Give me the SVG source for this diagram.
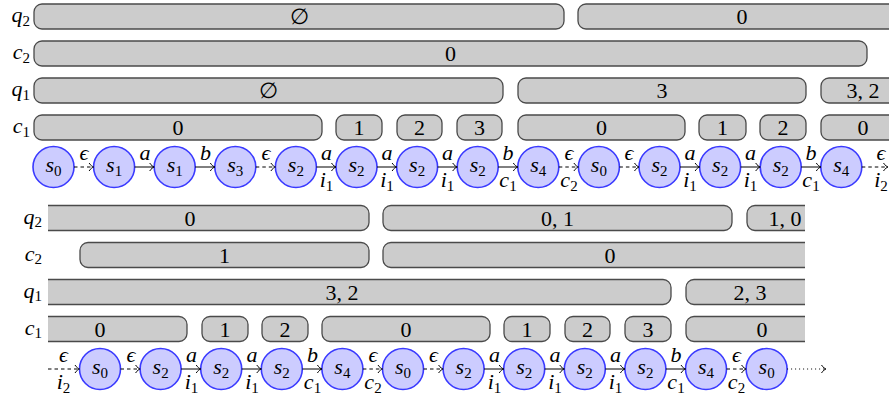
<svg xmlns="http://www.w3.org/2000/svg" width="889" height="400" viewBox="0 0 889 400" font-family="Liberation Serif, Times New Roman, DejaVu Serif, serif" font-size="22">
<style>
.st circle{fill:#ccccff;stroke:#3a3aff;stroke-width:1.6}
.bar rect{fill:#cccccc;stroke:#4a4a4a;stroke-width:1.3}
.lb{font-style:italic;text-anchor:middle}
.rl{font-style:italic;text-anchor:end}
.n{text-anchor:middle}
.sub{font-size:15px;font-style:normal}
.e{stroke:#000;stroke-width:1;fill:none;marker-end:url(#to)}
.d{stroke-dasharray:3.5 3}
.dot{stroke-dasharray:1 3}
</style>
<defs>
<marker id="to" viewBox="-6 -6 7 12" refX="0" refY="0" markerWidth="7" markerHeight="12" markerUnits="userSpaceOnUse" orient="auto">
<path d="M-4.5,-4 C-3,-1.5 -1,-0.4 0,0 C-1,0.4 -3,1.5 -4.5,4" fill="none" stroke="#000" stroke-width="1" stroke-dasharray="none"/>
</marker>
<clipPath id="clipB"><rect x="48" y="198" width="757" height="202"/></clipPath>
</defs>

<!-- Top row labels -->
<g id="top-row-labels">
<text class="rl" x="30" y="22">q<tspan class="sub" dy="3.5">2</tspan></text>
<text class="rl" x="30" y="59">c<tspan class="sub" dy="3.5">2</tspan></text>
<text class="rl" x="30" y="96">q<tspan class="sub" dy="3.5">1</tspan></text>
<text class="rl" x="30" y="133">c<tspan class="sub" dy="3.5">1</tspan></text>
</g>

<!-- Top bars -->
<g id="tq2a" class="bar"><rect x="34" y="4" width="530" height="25" rx="8"/><text class="n" x="299" y="24">∅</text></g>
<g id="tq2b" class="bar"><rect x="578" y="4" width="328" height="25" rx="8"/><text class="n" x="742" y="24">0</text></g>
<g id="tc2a" class="bar"><rect x="34" y="41" width="833" height="25" rx="8"/><text class="n" x="450.5" y="61">0</text></g>
<g id="tq1a" class="bar"><rect x="34" y="78" width="469" height="25" rx="8"/><text class="n" x="268.5" y="98">∅</text></g>
<g id="tq1b" class="bar"><rect x="518" y="78" width="288" height="25" rx="8"/><text class="n" x="662" y="98">3</text></g>
<g id="tq1c" class="bar"><rect x="821" y="78" width="84" height="25" rx="8"/><text class="n" x="863" y="98">3, 2</text></g>
<g id="tc1a" class="bar"><rect x="34" y="115" width="288" height="25" rx="8"/><text class="n" x="178" y="135">0</text></g>
<g id="tc1b" class="bar"><rect x="336" y="115" width="46" height="25" rx="8"/><text class="n" x="359" y="135">1</text></g>
<g id="tc1c" class="bar"><rect x="397" y="115" width="45" height="25" rx="8"/><text class="n" x="419.5" y="135">2</text></g>
<g id="tc1d" class="bar"><rect x="457" y="115" width="45" height="25" rx="8"/><text class="n" x="479.5" y="135">3</text></g>
<g id="tc1e" class="bar"><rect x="518" y="115" width="167" height="25" rx="8"/><text class="n" x="601.5" y="135">0</text></g>
<g id="tc1f" class="bar"><rect x="699" y="115" width="47" height="25" rx="8"/><text class="n" x="722.5" y="135">1</text></g>
<g id="tc1g" class="bar"><rect x="760" y="115" width="46" height="25" rx="8"/><text class="n" x="783" y="135">2</text></g>
<g id="tc1h" class="bar"><rect x="821" y="115" width="84" height="25" rx="8"/><text class="n" x="863" y="135">0</text></g>

<!-- Top states -->
<g id="t0" class="st"><circle cx="53.5" cy="167" r="20.5"/><text class="lb" x="53.5" y="172">s<tspan class="sub" dy="3.5">0</tspan></text></g>
<g id="t1" class="st"><circle cx="114.1" cy="167" r="20.5"/><text class="lb" x="114.1" y="172">s<tspan class="sub" dy="3.5">1</tspan></text></g>
<g id="t2" class="st"><circle cx="174.7" cy="167" r="20.5"/><text class="lb" x="174.7" y="172">s<tspan class="sub" dy="3.5">1</tspan></text></g>
<g id="t3" class="st"><circle cx="235.3" cy="167" r="20.5"/><text class="lb" x="235.3" y="172">s<tspan class="sub" dy="3.5">3</tspan></text></g>
<g id="t4" class="st"><circle cx="295.9" cy="167" r="20.5"/><text class="lb" x="295.9" y="172">s<tspan class="sub" dy="3.5">2</tspan></text></g>
<g id="t5" class="st"><circle cx="356.5" cy="167" r="20.5"/><text class="lb" x="356.5" y="172">s<tspan class="sub" dy="3.5">2</tspan></text></g>
<g id="t6" class="st"><circle cx="417.1" cy="167" r="20.5"/><text class="lb" x="417.1" y="172">s<tspan class="sub" dy="3.5">2</tspan></text></g>
<g id="t7" class="st"><circle cx="477.7" cy="167" r="20.5"/><text class="lb" x="477.7" y="172">s<tspan class="sub" dy="3.5">2</tspan></text></g>
<g id="t8" class="st"><circle cx="538.3" cy="167" r="20.5"/><text class="lb" x="538.3" y="172">s<tspan class="sub" dy="3.5">4</tspan></text></g>
<g id="t9" class="st"><circle cx="598.9" cy="167" r="20.5"/><text class="lb" x="598.9" y="172">s<tspan class="sub" dy="3.5">0</tspan></text></g>
<g id="t10" class="st"><circle cx="659.5" cy="167" r="20.5"/><text class="lb" x="659.5" y="172">s<tspan class="sub" dy="3.5">2</tspan></text></g>
<g id="t11" class="st"><circle cx="720.1" cy="167" r="20.5"/><text class="lb" x="720.1" y="172">s<tspan class="sub" dy="3.5">2</tspan></text></g>
<g id="t12" class="st"><circle cx="780.7" cy="167" r="20.5"/><text class="lb" x="780.7" y="172">s<tspan class="sub" dy="3.5">2</tspan></text></g>
<g id="t13" class="st"><circle cx="841.3" cy="167" r="20.5"/><text class="lb" x="841.3" y="172">s<tspan class="sub" dy="3.5">4</tspan></text></g>

<!-- Top connectors -->
<g id="top-connectors">
<line class="e d" x1="74" y1="167" x2="93.6" y2="167"/><text class="lb" x="84" y="160">ϵ</text>
<line class="e" x1="134.6" y1="167" x2="154.2" y2="167"/><text class="lb" x="145" y="160">a</text>
<line class="e" x1="195.2" y1="167" x2="214.8" y2="167"/><text class="lb" x="205.5" y="160">b</text>
<line class="e d" x1="255.8" y1="167" x2="275.4" y2="167"/><text class="lb" x="266" y="160">ϵ</text>
<line class="e" x1="316.4" y1="167" x2="336" y2="167"/><text class="lb" x="326.5" y="160">a</text><text class="lb" x="326.5" y="187">i<tspan class="sub" dy="3.5">1</tspan></text>
<line class="e" x1="377" y1="167" x2="396.6" y2="167"/><text class="lb" x="387" y="160">a</text><text class="lb" x="387" y="187">i<tspan class="sub" dy="3.5">1</tspan></text>
<line class="e" x1="437.6" y1="167" x2="457.2" y2="167"/><text class="lb" x="447.5" y="160">a</text><text class="lb" x="447.5" y="187">i<tspan class="sub" dy="3.5">1</tspan></text>
<line class="e" x1="498.2" y1="167" x2="517.8" y2="167"/><text class="lb" x="508" y="160">b</text><text class="lb" x="508" y="187">c<tspan class="sub" dy="3.5">1</tspan></text>
<line class="e d" x1="558.8" y1="167" x2="578.4" y2="167"/><text class="lb" x="569" y="160">ϵ</text><text class="lb" x="569" y="187">c<tspan class="sub" dy="3.5">2</tspan></text>
<line class="e d" x1="619.4" y1="167" x2="639" y2="167"/><text class="lb" x="629" y="160">ϵ</text>
<line class="e" x1="680" y1="167" x2="699.6" y2="167"/><text class="lb" x="690" y="160">a</text><text class="lb" x="690" y="187">i<tspan class="sub" dy="3.5">1</tspan></text>
<line class="e" x1="740.6" y1="167" x2="760.2" y2="167"/><text class="lb" x="750.5" y="160">a</text><text class="lb" x="750.5" y="187">i<tspan class="sub" dy="3.5">1</tspan></text>
<line class="e" x1="801.2" y1="167" x2="820.8" y2="167"/><text class="lb" x="811" y="160">b</text><text class="lb" x="811" y="187">c<tspan class="sub" dy="3.5">1</tspan></text>
<line class="e d" x1="861.8" y1="167" x2="888" y2="167"/><text class="lb" x="881" y="160">ϵ</text><text class="lb" x="881" y="187">i<tspan class="sub" dy="3.5">2</tspan></text>
</g>

<!-- Bottom row labels -->
<g id="bottom-row-labels">
<text class="rl" x="42" y="223.5">q<tspan class="sub" dy="3.5">2</tspan></text>
<text class="rl" x="42" y="260.5">c<tspan class="sub" dy="3.5">2</tspan></text>
<text class="rl" x="42" y="297.5">q<tspan class="sub" dy="3.5">1</tspan></text>
<text class="rl" x="42" y="334.5">c<tspan class="sub" dy="3.5">1</tspan></text>
</g>

<g clip-path="url(#clipB)">
<!-- Bottom bars -->
<g id="bq2a" class="bar"><rect x="11" y="205.5" width="358" height="25" rx="8"/><text class="n" x="190" y="225.5">0</text></g>
<g id="bq2b" class="bar"><rect x="383" y="205.5" width="349" height="25" rx="8"/><text class="n" x="557.5" y="225.5">0, 1</text></g>
<g id="bq2c" class="bar"><rect x="747" y="205.5" width="76" height="25" rx="8"/><text class="n" x="785" y="225.5">1, 0</text></g>
<g id="bc2a" class="bar"><rect x="80" y="242.5" width="289" height="25" rx="8"/><text class="n" x="224.5" y="262.5">1</text></g>
<g id="bc2b" class="bar"><rect x="383" y="242.5" width="454" height="25" rx="8"/><text class="n" x="610" y="262.5">0</text></g>
<g id="bq1a" class="bar"><rect x="13" y="279.5" width="658" height="25" rx="8"/><text class="n" x="342" y="299.5">3, 2</text></g>
<g id="bq1b" class="bar"><rect x="686" y="279.5" width="128" height="25" rx="8"/><text class="n" x="750" y="299.5">2, 3</text></g>
<g id="bc1a" class="bar"><rect x="13" y="316.5" width="174" height="25" rx="8"/><text class="n" x="100" y="336.5">0</text></g>
<g id="bc1b" class="bar"><rect x="202" y="316.5" width="46" height="25" rx="8"/><text class="n" x="225" y="336.5">1</text></g>
<g id="bc1c" class="bar"><rect x="262" y="316.5" width="46" height="25" rx="8"/><text class="n" x="285" y="336.5">2</text></g>
<g id="bc1d" class="bar"><rect x="322" y="316.5" width="168" height="25" rx="8"/><text class="n" x="406" y="336.5">0</text></g>
<g id="bc1e" class="bar"><rect x="504" y="316.5" width="46" height="25" rx="8"/><text class="n" x="527" y="336.5">1</text></g>
<g id="bc1f" class="bar"><rect x="565" y="316.5" width="45" height="25" rx="8"/><text class="n" x="587.5" y="336.5">2</text></g>
<g id="bc1g" class="bar"><rect x="625" y="316.5" width="46" height="25" rx="8"/><text class="n" x="648" y="336.5">3</text></g>
<g id="bc1h" class="bar"><rect x="686" y="316.5" width="152" height="25" rx="8"/><text class="n" x="762" y="336.5">0</text></g>
</g>

<!-- Bottom states -->
<g id="b0" class="st"><circle cx="100" cy="369" r="20.5"/><text class="lb" x="100" y="374">s<tspan class="sub" dy="3.5">0</tspan></text></g>
<g id="b1" class="st"><circle cx="160.6" cy="369" r="20.5"/><text class="lb" x="160.6" y="374">s<tspan class="sub" dy="3.5">2</tspan></text></g>
<g id="b2" class="st"><circle cx="221.2" cy="369" r="20.5"/><text class="lb" x="221.2" y="374">s<tspan class="sub" dy="3.5">2</tspan></text></g>
<g id="b3" class="st"><circle cx="281.8" cy="369" r="20.5"/><text class="lb" x="281.8" y="374">s<tspan class="sub" dy="3.5">2</tspan></text></g>
<g id="b4" class="st"><circle cx="342.4" cy="369" r="20.5"/><text class="lb" x="342.4" y="374">s<tspan class="sub" dy="3.5">4</tspan></text></g>
<g id="b5" class="st"><circle cx="403" cy="369" r="20.5"/><text class="lb" x="403" y="374">s<tspan class="sub" dy="3.5">0</tspan></text></g>
<g id="b6" class="st"><circle cx="463.6" cy="369" r="20.5"/><text class="lb" x="463.6" y="374">s<tspan class="sub" dy="3.5">2</tspan></text></g>
<g id="b7" class="st"><circle cx="524.2" cy="369" r="20.5"/><text class="lb" x="524.2" y="374">s<tspan class="sub" dy="3.5">2</tspan></text></g>
<g id="b8" class="st"><circle cx="584.8" cy="369" r="20.5"/><text class="lb" x="584.8" y="374">s<tspan class="sub" dy="3.5">2</tspan></text></g>
<g id="b9" class="st"><circle cx="645.4" cy="369" r="20.5"/><text class="lb" x="645.4" y="374">s<tspan class="sub" dy="3.5">2</tspan></text></g>
<g id="b10" class="st"><circle cx="706" cy="369" r="20.5"/><text class="lb" x="706" y="374">s<tspan class="sub" dy="3.5">4</tspan></text></g>
<g id="b11" class="st"><circle cx="766.6" cy="369" r="20.5"/><text class="lb" x="766.6" y="374">s<tspan class="sub" dy="3.5">0</tspan></text></g>

<!-- Bottom connectors -->
<g id="bottom-connectors">
<line class="e d" x1="48" y1="369" x2="79.5" y2="369"/><text class="lb" x="63.5" y="362">ϵ</text><text class="lb" x="63.5" y="389">i<tspan class="sub" dy="3.5">2</tspan></text>
<line class="e d" x1="120.5" y1="369" x2="140.1" y2="369"/><text class="lb" x="131" y="362">ϵ</text>
<line class="e" x1="181.1" y1="369" x2="200.7" y2="369"/><text class="lb" x="191.5" y="362">a</text><text class="lb" x="191.5" y="389">i<tspan class="sub" dy="3.5">1</tspan></text>
<line class="e" x1="241.7" y1="369" x2="261.3" y2="369"/><text class="lb" x="252" y="362">a</text><text class="lb" x="252" y="389">i<tspan class="sub" dy="3.5">1</tspan></text>
<line class="e" x1="302.3" y1="369" x2="321.9" y2="369"/><text class="lb" x="312.5" y="362">b</text><text class="lb" x="312.5" y="389">c<tspan class="sub" dy="3.5">1</tspan></text>
<line class="e d" x1="362.9" y1="369" x2="382.5" y2="369"/><text class="lb" x="373" y="362">ϵ</text><text class="lb" x="373" y="389">c<tspan class="sub" dy="3.5">2</tspan></text>
<line class="e d" x1="423.5" y1="369" x2="443.1" y2="369"/><text class="lb" x="433.5" y="362">ϵ</text>
<line class="e" x1="484.1" y1="369" x2="503.7" y2="369"/><text class="lb" x="494.5" y="362">a</text><text class="lb" x="494.5" y="389">i<tspan class="sub" dy="3.5">1</tspan></text>
<line class="e" x1="544.7" y1="369" x2="564.3" y2="369"/><text class="lb" x="555" y="362">a</text><text class="lb" x="555" y="389">i<tspan class="sub" dy="3.5">1</tspan></text>
<line class="e" x1="605.3" y1="369" x2="624.9" y2="369"/><text class="lb" x="615.5" y="362">a</text><text class="lb" x="615.5" y="389">i<tspan class="sub" dy="3.5">1</tspan></text>
<line class="e" x1="665.9" y1="369" x2="685.5" y2="369"/><text class="lb" x="676" y="362">b</text><text class="lb" x="676" y="389">c<tspan class="sub" dy="3.5">1</tspan></text>
<line class="e d" x1="726.5" y1="369" x2="746.1" y2="369"/><text class="lb" x="736.5" y="362">ϵ</text><text class="lb" x="736.5" y="389">c<tspan class="sub" dy="3.5">2</tspan></text>
<line class="e dot" x1="787.1" y1="369" x2="826" y2="369"/>
</g>
</svg>
